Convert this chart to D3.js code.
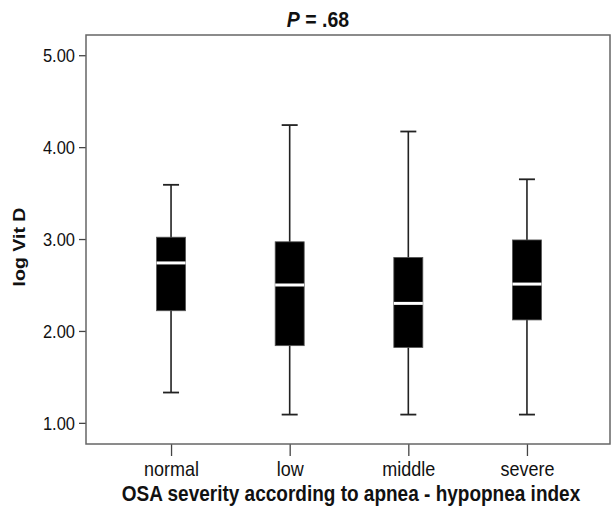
<!DOCTYPE html>
<html>
<head>
<meta charset="utf-8">
<script src="https://cdn.jsdelivr.net/npm/d3@7"></script>
<style>
  body { margin: 0; background: #fff; }
  svg { display: block; font-family: "Liberation Sans", Arial, sans-serif; }
</style>
</head>
<body>
<div id="chart"></div>
<script>
"use strict";

// Values
const categories = ["normal", "low", "middle", "severe"];
const whiskerLow = [1.33, 1.09, 1.09, 1.09];
const q1 = [2.22, 1.84, 1.82, 2.12];
const median = [2.74, 2.50, 2.30, 2.51];
const q3 = [3.02, 2.97, 2.80, 2.99];
const whiskerHigh = [3.59, 4.24, 4.17, 3.65];
const yTicks = [1, 2, 3, 4, 5];

const w = 612;
const h = 508;
const frame = { left: 86, right: 610, top: 35, bottom: 444 };
const stretch = 1.15; // text in the source is a bit tall

const boxes = categories.map((c, i) => ({
  name: c,
  lo: whiskerLow[i],
  q1: q1[i],
  med: median[i],
  q3: q3[i],
  hi: whiskerHigh[i],
}));

const svg = d3.select("#chart").append("svg").attr("width", w).attr("height", h);

const x = d3.scalePoint().domain(categories).range([88, frame.right]).padding(0.7);
const y = d3.scaleLinear().domain([0.77, 5.22]).range([frame.bottom, frame.top]);

// Axes
const yAxis = svg
  .append("g")
  .attr("transform", `translate(${frame.left},0)`)
  .call(d3.axisLeft(y).tickValues(yTicks).tickFormat(d3.format(".2f")).tickSize(7).tickPadding(4));

yAxis.select(".domain").remove();
yAxis.selectAll("line").attr("stroke", "#444").attr("stroke-width", 1.3);
yAxis
  .selectAll("text")
  .attr("font-size", 16.5)
  .attr("fill", "#111")
  .attr("dy", "0.34em")
  .attr("transform", `scale(1,${stretch})`);

const xAxis = svg
  .append("g")
  .attr("transform", `translate(0,${frame.bottom})`)
  .call(d3.axisBottom(x).tickSize(12));

xAxis.select(".domain").remove();
xAxis.selectAll("line").attr("stroke", "#444").attr("stroke-width", 1.3);
xAxis
  .selectAll("text")
  .attr("font-size", 18)
  .attr("fill", "#111")
  .attr("y", 28)
  .attr("dy", 0)
  .attr("transform", `scale(1,${stretch})`);

// Plot frame
svg
  .append("rect")
  .attr("x", frame.left)
  .attr("y", frame.top)
  .attr("width", frame.right - frame.left)
  .attr("height", frame.bottom - frame.top)
  .attr("fill", "none")
  .attr("stroke", "#666")
  .attr("stroke-width", 1.5);

// Boxes
const boxW = 29;
const capW = 16;

const g = svg
  .selectAll("g.box")
  .data(boxes)
  .enter()
  .append("g")
  .attr("class", "box")
  .attr("transform", (d) => `translate(${x(d.name)},0)`);

g.append("line")
  .attr("y1", (d) => y(d.lo))
  .attr("y2", (d) => y(d.hi))
  .attr("stroke", "#222")
  .attr("stroke-width", 1.6);

g.selectAll("line.cap")
  .data((d) => [d.lo, d.hi])
  .enter()
  .append("line")
  .attr("class", "cap")
  .attr("x1", -capW / 2)
  .attr("x2", capW / 2)
  .attr("y1", (d) => y(d))
  .attr("y2", (d) => y(d))
  .attr("stroke", "#222")
  .attr("stroke-width", 1.8);

g.append("rect")
  .attr("x", -boxW / 2)
  .attr("y", (d) => y(d.q3))
  .attr("width", boxW)
  .attr("height", (d) => y(d.q1) - y(d.q3))
  .attr("fill", "#000")
  .attr("stroke", "#555")
  .attr("stroke-width", 0.8);

g.append("line")
  .attr("x1", -boxW / 2)
  .attr("x2", boxW / 2)
  .attr("y1", (d) => y(d.med))
  .attr("y2", (d) => y(d.med))
  .attr("stroke", "#fff")
  .attr("stroke-width", 3);

// Title
const title = svg
  .append("text")
  .attr("transform", `translate(318,27) scale(1,${stretch})`)
  .attr("text-anchor", "middle")
  .attr("font-size", 19.5)
  .attr("font-weight", "bold")
  .attr("fill", "#111");
title.append("tspan").attr("font-style", "italic").text("P");
title.append("tspan").text(" = .68");

// Axis titles
svg
  .append("text")
  .attr("transform", `translate(${(frame.left + frame.right) / 2 + 3},501) scale(1,${stretch})`)
  .attr("text-anchor", "middle")
  .attr("font-size", 19)
  .attr("font-weight", "bold")
  .attr("fill", "#111")
  .text("OSA severity according to apnea - hypopnea index");

svg
  .append("text")
  .attr("transform", `translate(25,247) rotate(-90) scale(${stretch},1)`)
  .attr("text-anchor", "middle")
  .attr("font-size", 17)
  .attr("font-weight", "bold")
  .attr("fill", "#111")
  .text("log Vit D");
</script>
</body>
</html>
